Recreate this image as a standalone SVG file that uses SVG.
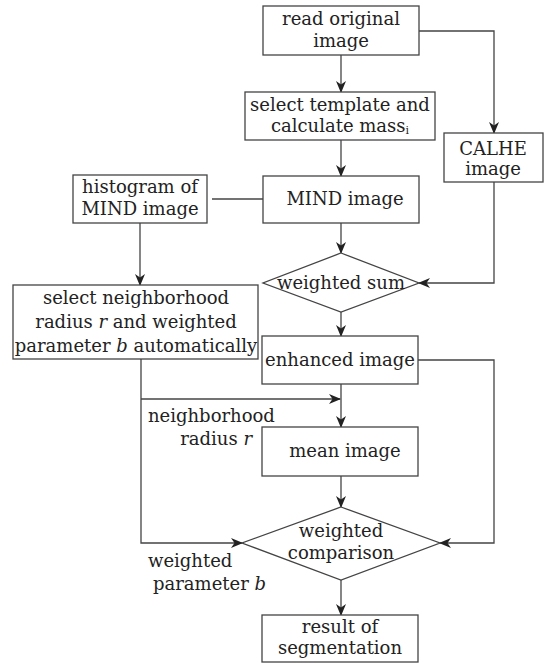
<svg xmlns="http://www.w3.org/2000/svg" width="552" height="664" viewBox="0 0 552 664">
<style>
.box{fill:#fff;stroke:#444;stroke-width:1.3}
.ln{fill:none;stroke:#444;stroke-width:1.3}
text{font-family:"DejaVu Serif","Liberation Serif",serif;font-size:18px;fill:#222;text-anchor:middle}
.l{text-anchor:start}
.i{font-style:italic}
</style>
<defs>
<marker id="ah" markerWidth="12" markerHeight="10" refX="11" refY="5" orient="auto" markerUnits="userSpaceOnUse">
<path d="M0,0 L12,5 L0,10 L3.5,5 z" fill="#222"/>
</marker>
</defs>
<rect width="552" height="664" fill="#fff"/>
<g id="connectors">
<line class="ln" x1="341" y1="55" x2="341" y2="92" marker-end="url(#ah)"/>
<polyline class="ln" points="419,31 494,31 494,133" marker-end="url(#ah)"/>
<line class="ln" x1="341" y1="140" x2="341" y2="176" marker-end="url(#ah)"/>
<line class="ln" x1="212" y1="199" x2="263" y2="199"/>
<line class="ln" x1="140" y1="223" x2="140" y2="285" marker-end="url(#ah)"/>
<line class="ln" x1="341" y1="223" x2="341" y2="253" marker-end="url(#ah)"/>
<polyline class="ln" points="494,182 494,283 419,283" marker-end="url(#ah)"/>
<line class="ln" x1="341" y1="312" x2="341" y2="336" marker-end="url(#ah)"/>
<line class="ln" x1="341" y1="384" x2="341" y2="427" marker-end="url(#ah)"/>
<line class="ln" x1="141" y1="399" x2="340" y2="399" marker-end="url(#ah)"/>
<polyline class="ln" points="141,359 141,543 242,543" marker-end="url(#ah)"/>
<line class="ln" x1="341" y1="476" x2="341" y2="507" marker-end="url(#ah)"/>
<polyline class="ln" points="418,360 494,360 494,543 440,543" marker-end="url(#ah)"/>
<line class="ln" x1="341" y1="580" x2="341" y2="615" marker-end="url(#ah)"/>
</g>
<g id="read">
<rect class="box" x="263" y="6" width="156" height="49"/>
<text x="341" y="25">read original</text>
<text x="341" y="47">image</text>
</g>
<g id="template">
<rect class="box" x="245" y="92" width="190" height="48"/>
<text x="340" y="111">select template and</text>
<text x="340" y="132">calculate mass<tspan font-size="11" dy="2">i</tspan></text>
</g>
<g id="calhe">
<rect class="box" x="444" y="133" width="99" height="49"/>
<text x="493" y="155">CALHE</text>
<text x="493" y="175">image</text>
</g>
<g id="histogram">
<rect class="box" x="73" y="175" width="134" height="48"/>
<text x="140" y="193">histogram of</text>
<text x="140" y="215">MIND image</text>
</g>
<g id="mind">
<rect class="box" x="263" y="176" width="156" height="47"/>
<text x="345" y="205">MIND image</text>
</g>
<g id="wsum">
<polygon class="box" points="341,253 419,283 341,312 263,283"/>
<text x="341" y="289">weighted sum</text>
</g>
<g id="select">
<rect class="box" x="13" y="285" width="245" height="74"/>
<text x="136" y="304">select neighborhood</text>
<text x="136" y="328">radius <tspan class="i">r</tspan> and weighted</text>
<text x="136" y="352">parameter <tspan class="i">b</tspan> automatically</text>
</g>
<g id="enhanced">
<rect class="box" x="262" y="336" width="156" height="48"/>
<text x="340" y="366">enhanced image</text>
</g>
<g id="labels">
<text class="l" x="148" y="422">neighborhood</text>
<text x="252" y="445" style="text-anchor:end">radius <tspan class="i">r</tspan></text>
<text class="l" x="148" y="567">weighted</text>
<text class="l" x="153" y="590">parameter <tspan class="i">b</tspan></text>
</g>
<g id="mean">
<rect class="box" x="262" y="427" width="156" height="49"/>
<text x="345" y="457">mean image</text>
</g>
<g id="wcomp">
<polygon class="box" points="341,507 440,543 341,580 242,543"/>
<text x="341" y="537">weighted</text>
<text x="341" y="559">comparison</text>
</g>
<g id="result">
<rect class="box" x="262" y="615" width="156" height="47"/>
<text x="340" y="633">result of</text>
<text x="340" y="654">segmentation</text>
</g>
</svg>
